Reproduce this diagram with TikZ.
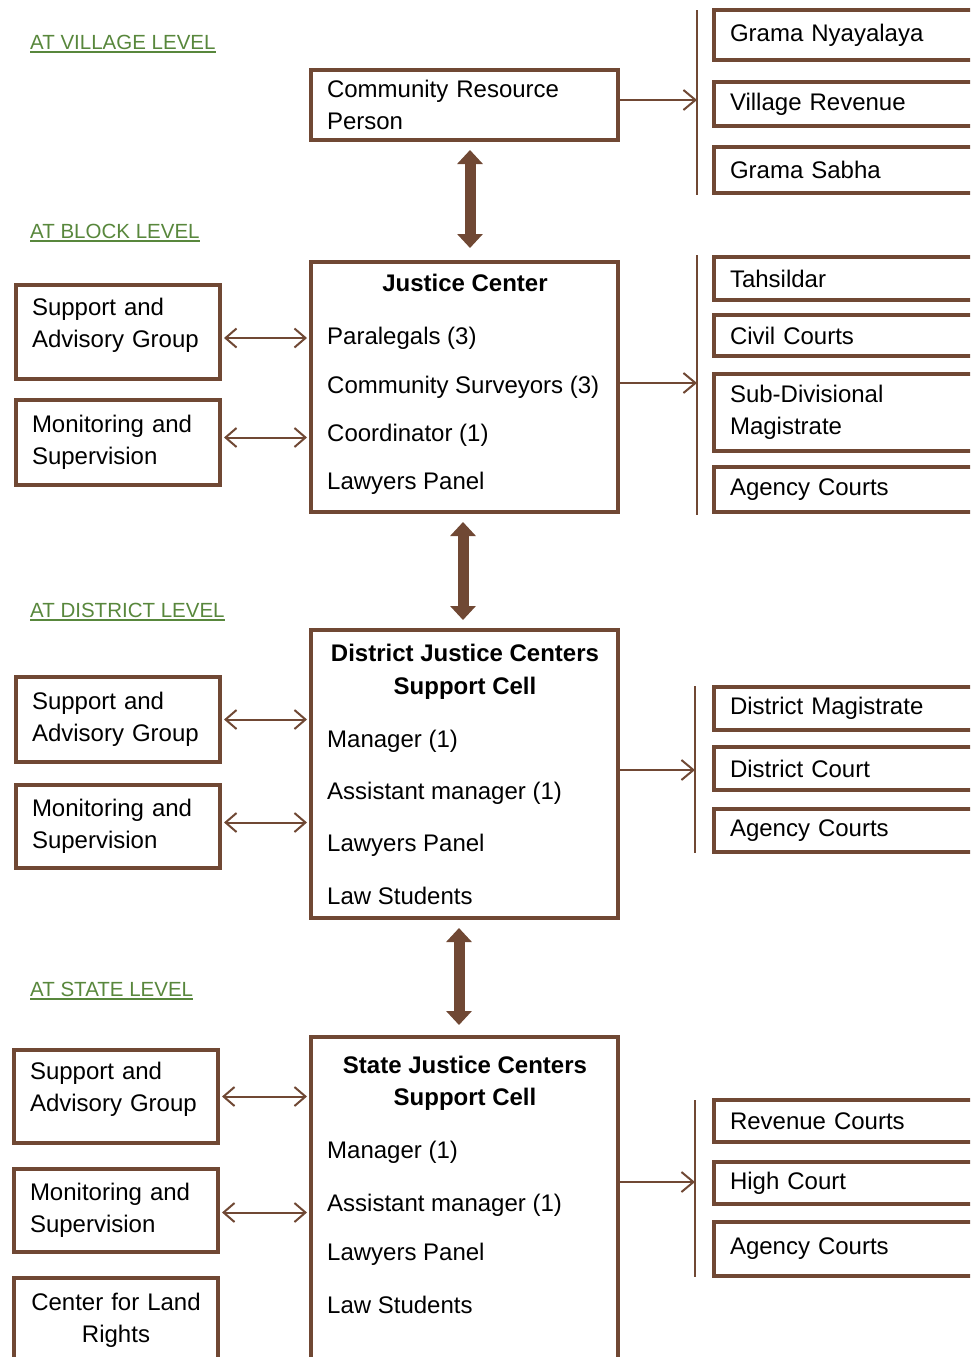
\documentclass[tikz,border=0pt]{standalone}
\usepackage{fontspec}
\setmainfont{Liberation Sans}
\usetikzlibrary{arrows.meta}
\definecolor{brn}{RGB}{112,72,52}
\definecolor{lvlgreen}{RGB}{88,135,60}
\tikzset{
  box/.style={draw=brn, line width=4pt, anchor=north west, inner xsep=16pt, inner ysep=0pt, align=left, font=\fontsize{24}{32}\selectfont},
  rbox/.style={box, text width=268pt},
  lbox/.style={box, text width=172pt},
  bigbox/.style={draw=brn, line width=4pt, anchor=north west, minimum width=307pt, inner sep=0pt},
  item/.style={anchor=base west, inner sep=0pt, font=\fontsize{24}{32}\selectfont},
  ttl/.style={anchor=base, inner sep=0pt, font=\fontsize{24}{32}\selectfont\bfseries},
  lvl/.style={anchor=base west, inner sep=0pt, text=lvlgreen, font=\fontsize{20.5}{24}\selectfont},
  uline/.style={draw=lvlgreen, line width=1.6pt},
  bar/.style={draw=brn, line width=2pt},
  one/.style={draw=brn, line width=2pt, -{Straight Barb[length=12pt,width=20pt]}},
  duo/.style={draw=brn, line width=2pt, {Straight Barb[length=11pt,width=19pt]}-{Straight Barb[length=11pt,width=19pt]}, shorten <=2pt, shorten >=2pt},
  big/.style={draw=brn, line width=11pt, {Triangle[length=14pt,width=25pt]}-{Triangle[length=14pt,width=25pt]}}
}
\begin{document}
\begin{tikzpicture}[x=1pt, y=-1pt]
    \useasboundingbox (0,0) rectangle (970,1357);
    \clip (0,0) rectangle (970,1357);

    % Village level
    \node (lvv) [lvl] at (30,49) {AT VILLAGE LEVEL};
    \node (crp) [box, text width=275pt, minimum height=70pt] at (309,68) {Community Resource\\Person};
    \node (gn) [rbox, minimum height=50pt] at (712,8) {Grama Nyayalaya};
    \node (vr) [rbox, minimum height=44pt] at (712,80) {Village Revenue};
    \node (gs) [rbox, minimum height=46pt] at (712,145) {Grama Sabha};
    \coordinate (b1t) at (697,10);
    \coordinate (b1b) at (697,195);
    \coordinate (b1) at (697,100);

    % Block level
    \node (lvb) [lvl] at (30,238) {AT BLOCK LEVEL};
    \node (jc) [bigbox, minimum height=250pt] at (309,260) {};
    \node (jct) [ttl] at (465,291.5) {Justice Center};
    \node (jc1) [item] at (327,344.5) {Paralegals (3)};
    \node (jc2) [item] at (327,393.5) {Community Surveyors (3)};
    \node (jc3) [item] at (327,441.5) {Coordinator (1)};
    \node (jc4) [item] at (327,489.5) {Lawyers Panel};
    \node (sag1) [lbox, minimum height=94pt, text depth=51pt] at (14,283) {Support and\\Advisory Group};
    \node (ms1) [lbox, minimum height=85pt] at (14,398) {Monitoring and\\Supervision};
    \node (tah) [rbox, minimum height=43pt] at (712,255) {Tahsildar};
    \node (cc) [rbox, minimum height=41pt] at (712,313) {Civil Courts};
    \node (sdm) [rbox, minimum height=77pt] at (712,372) {Sub-Divisional\\Magistrate};
    \node (ac1) [rbox, minimum height=45pt] at (712,465) {Agency Courts};
    \coordinate (b2t) at (697,255);
    \coordinate (b2b) at (697,515);
    \coordinate (b2) at (697,383);
    \coordinate (s1) at ([yshift=-6pt]sag1.east);
    \coordinate (m1) at ([yshift=5pt]ms1.east);

    % District level
    \node (lvd) [lvl] at (30,617) {AT DISTRICT LEVEL};
    \node (djc) [bigbox, minimum height=288pt] at (309,628) {};
    \node (djct1) [ttl] at (465,661.5) {District Justice Centers};
    \node (djct2) [ttl] at (465,694.5) {Support Cell};
    \node (djc1) [item] at (327,747.5) {Manager (1)};
    \node (djc2) [item] at (327,799.5) {Assistant manager (1)};
    \node (djc3) [item] at (327,851.5) {Lawyers Panel};
    \node (djc4) [item] at (327,904.5) {Law Students};
    \node (sag2) [lbox, minimum height=85pt] at (14,675) {Support and\\Advisory Group};
    \node (ms2) [lbox, minimum height=83pt] at (14,783) {Monitoring and\\Supervision};
    \node (dm) [rbox, minimum height=43pt] at (712,685) {District Magistrate};
    \node (dc) [rbox, minimum height=43pt] at (712,745) {District Court};
    \node (ac2) [rbox, minimum height=43pt] at (712,807) {Agency Courts};
    \coordinate (b3t) at (695,686);
    \coordinate (b3b) at (695,853);
    \coordinate (b3) at (695,770);
    \coordinate (s2) at ([yshift=0pt]sag2.east);
    \coordinate (m2) at ([yshift=4pt]ms2.east);

    % State level
    \node (lvs) [lvl] at (30,996) {AT STATE LEVEL};
    \node (sjc) [bigbox, minimum height=345pt] at (309,1035) {};
    \node (sjct1) [ttl] at (465,1073.5) {State Justice Centers};
    \node (sjct2) [ttl] at (465,1105.5) {Support Cell};
    \node (sjc1) [item] at (327,1158.5) {Manager (1)};
    \node (sjc2) [item] at (327,1211.5) {Assistant manager (1)};
    \node (sjc3) [item] at (327,1260.5) {Lawyers Panel};
    \node (sjc4) [item] at (327,1313.5) {Law Students};
    \node (sag3) [lbox, minimum height=93pt, text depth=51pt] at (12,1048) {Support and\\Advisory Group};
    \node (ms3) [lbox, minimum height=83pt] at (12,1167) {Monitoring and\\Supervision};
    \node (clr) [lbox, align=center, minimum height=84pt] at (12,1276) {Center for Land\\Rights};
    \node (rc) [rbox, minimum height=42pt] at (712,1098) {Revenue Courts};
    \node (hc) [rbox, minimum height=42pt] at (712,1160) {High Court};
    \node (ac3) [rbox, minimum height=54pt] at (712,1220) {Agency Courts};
    \coordinate (b4t) at (695,1100);
    \coordinate (b4b) at (695,1277);
    \coordinate (b4) at (695,1182);
    \coordinate (s3) at ([yshift=0pt]sag3.east);
    \coordinate (m3) at ([yshift=-2pt]ms3.east);

    % Underlines
    \draw[uline] ([yshift=-2.5pt]lvv.south west) -- ([yshift=-2.5pt]lvv.south east);
    \draw[uline] ([yshift=-2.5pt]lvb.south west) -- ([yshift=-2.5pt]lvb.south east);
    \draw[uline] ([yshift=-2.5pt]lvd.south west) -- ([yshift=-2.5pt]lvd.south east);
    \draw[uline] ([yshift=-2.5pt]lvs.south west) -- ([yshift=-2.5pt]lvs.south east);

    % Edges
    \draw[big] ([xshift=5.5pt,yshift=-8pt]crp.south) -- ([xshift=5.5pt,yshift=12pt]jc.north);
    \draw[big] ([xshift=-1.5pt,yshift=-8pt]jc.south) -- ([xshift=-1.5pt,yshift=8pt]djc.north);
    \draw[big] ([xshift=-5.5pt,yshift=-8pt]djc.south) -- ([xshift=-5.5pt,yshift=10pt]sjc.north);

    \draw[bar] (b1t) -- (b1b);
    \draw[bar] (b2t) -- (b2b);
    \draw[bar] (b3t) -- (b3b);
    \draw[bar] (b4t) -- (b4b);
    \draw[one] (crp.east |- b1) -- (b1);
    \draw[one] (jc.east |- b2) -- (b2);
    \draw[one] (djc.east |- b3) -- (b3);
    \draw[one] (sjc.east |- b4) -- (b4);

    \draw[duo] (s1) -- (s1 -| jc.west);
    \draw[duo] (m1) -- (m1 -| jc.west);
    \draw[duo] (s2) -- (s2 -| djc.west);
    \draw[duo] (m2) -- (m2 -| djc.west);
    \draw[duo] (s3) -- (s3 -| sjc.west);
    \draw[duo] (m3) -- (m3 -| sjc.west);

\end{tikzpicture}
\end{document}
